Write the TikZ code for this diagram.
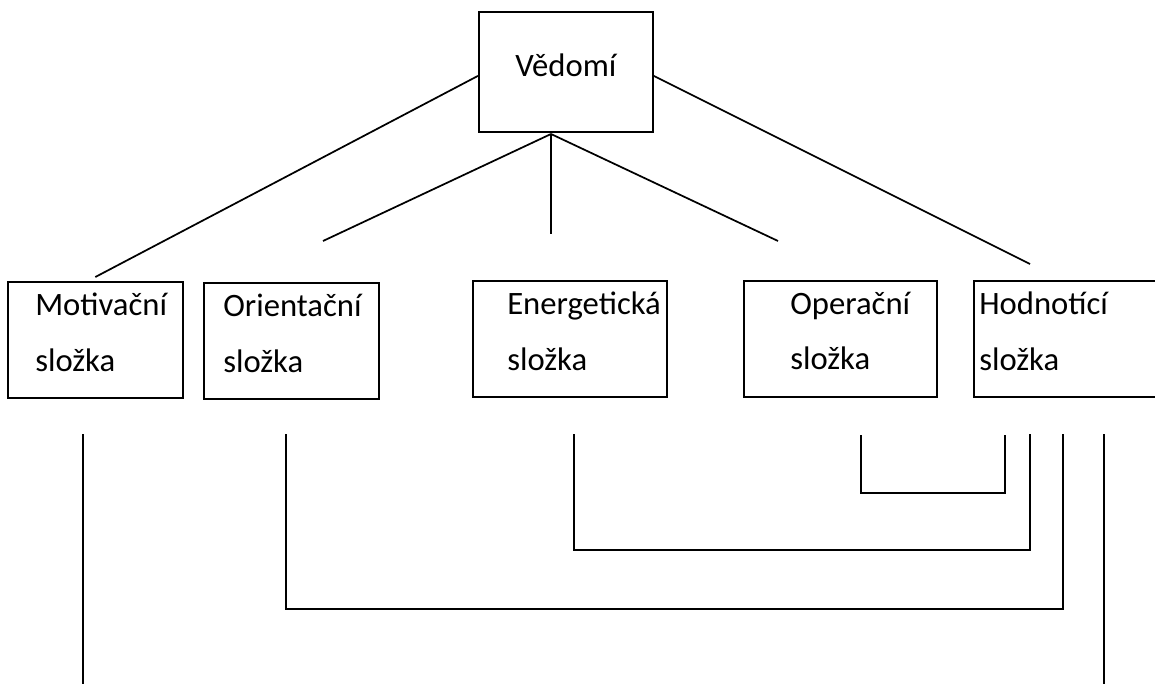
\documentclass[tikz,border=0pt]{standalone}
\usepackage{fontspec}
\setmainfont{Carlito}
\usetikzlibrary{positioning}
\tikzset{
  box/.style={
    draw, line width=1.3pt, anchor=north west, inner sep=0pt,
    minimum width=#1*0.75pt, minimum height=116*0.75pt
  },
  box/.default=175,
  lbl/.style={inner sep=0pt, align=left, font=\fontsize{24.5}{41.5}\selectfont},
  ln/.style={line width=1.3pt, color=black},
}
\begin{document}
\begin{tikzpicture}[x=0.75pt, y=-0.75pt]
\useasboundingbox (0,0) rectangle (1155,684);

\node[box=174, minimum height=120*0.75pt, font=\fontsize{24.5}{42}\selectfont,
  text height=18pt, text depth=10.5pt] at (478,11) (ved) {Vědomí};

\node[box=175] at (7,281) (mot) {};
\node[box=175] at (203,282) (ori) {};
\node[box=194] at (472,280) (ene) {};
\node[box=193] at (743,280) (ope) {};
\node[box=188] at (973,280) (hod) {};

% Texts in the boxes
\node[lbl, below right=9pt and 21pt of mot.north west] (motT) {Motivační\\složka};
\node[lbl, below right=9pt and 15pt of ori.north west] (oriT) {Orientační\\složka};
\node[lbl, below right=9pt and 26.25pt of ene.north west] (eneT) {Energetická\\složka};
\node[lbl, below right=9pt and 35.25pt of ope.north west] (opeT) {Operační\\složka};
\node[lbl, below right=9pt and 4.5pt of hod.north west] (hodT) {Hodnotící\\složka};

% Free ends
\coordinate (apex) at (551,134);
\coordinate (oriTip) at (323,241);
\coordinate (eneTip) at (551,234);
\coordinate (opeTip) at (778,241);
\coordinate (hodTip) at (1030,264);

\draw[ln] ([yshift=-3pt]ved.west) -- ([yshift=3pt]mot.north);
\draw[ln] ([yshift=-3pt]ved.east) -- (hodTip);
\draw[ln] (apex) -- (oriTip);
\draw[ln] (apex) -- (eneTip);
\draw[ln] (apex) -- (opeTip);

% Links below the boxes
\coordinate (motB) at (83,434);
\coordinate (oriB) at (286,434);
\coordinate (eneB) at (574,434);
\coordinate (opeB) at (861,435);
\coordinate (hodB1) at (1005,435);
\coordinate (hodB2) at (1030,434);
\coordinate (hodB3) at (1063,434);
\coordinate (hodB4) at (1104,434);
\coordinate (motEnd) at (83,690);
\coordinate (hodEnd) at (1104,690);

\draw[ln] (opeB) -- ++(0,58) -| (hodB1);
\draw[ln] (eneB) -- ++(0,116) -| (hodB2);
\draw[ln] (oriB) -- ++(0,175) -| (hodB3);
\draw[ln] (motB) -- (motEnd);
\draw[ln] (hodB4) -- (hodEnd);

\end{tikzpicture}
\end{document}
